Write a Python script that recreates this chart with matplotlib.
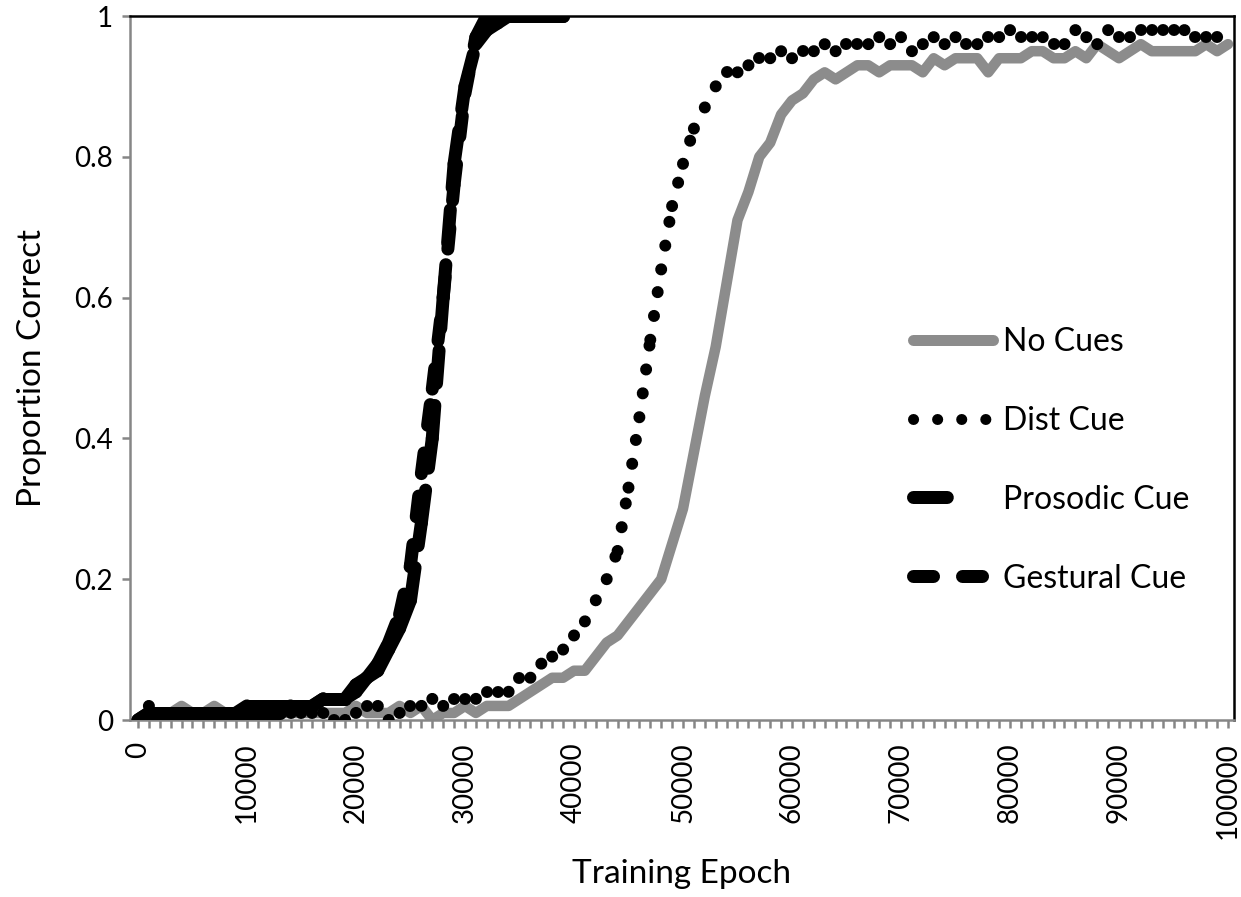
import numpy as np
import matplotlib
matplotlib.use("Agg")
import matplotlib.pyplot as plt
from matplotlib.collections import LineCollection
from matplotlib.lines import Line2D

plt.rcParams['font.family'] = ['Lato', 'DejaVu Sans']

# --- data (proportion correct, one value per 1000 training epochs) ---
epochs = list(range(0, 100001, 1000))

no_cues = [
    0.00, 0.01, 0.01, 0.01, 0.02, 0.01, 0.01, 0.02, 0.01, 0.01,
    0.01, 0.01, 0.01, 0.01, 0.01, 0.01, 0.01, 0.01, 0.01, 0.01,
    0.02, 0.01, 0.01, 0.01, 0.02, 0.01, 0.02, 0.00, 0.01, 0.01,
    0.02, 0.01, 0.02, 0.02, 0.02, 0.03, 0.04, 0.05, 0.06, 0.06,
    0.07, 0.07, 0.09, 0.11, 0.12, 0.14, 0.16, 0.18, 0.20, 0.25,
    0.30, 0.38, 0.46, 0.53, 0.62, 0.71, 0.75, 0.80, 0.82, 0.86,
    0.88, 0.89, 0.91, 0.92, 0.91, 0.92, 0.93, 0.93, 0.92, 0.93,
    0.93, 0.93, 0.92, 0.94, 0.93, 0.94, 0.94, 0.94, 0.92, 0.94,
    0.94, 0.94, 0.95, 0.95, 0.94, 0.94, 0.95, 0.94, 0.96, 0.95,
    0.94, 0.95, 0.96, 0.95, 0.95, 0.95, 0.95, 0.95, 0.96, 0.95,
    0.96,
]

dist_cue = [
    0.00, 0.02, 0.01, 0.01, 0.01, 0.01, 0.01, 0.01, 0.01, 0.01,
    0.01, 0.01, 0.01, 0.01, 0.01, 0.01, 0.01, 0.01, 0.00, 0.00,
    0.01, 0.02, 0.02, 0.00, 0.01, 0.02, 0.02, 0.03, 0.02, 0.03,
    0.03, 0.03, 0.04, 0.04, 0.04, 0.06, 0.06, 0.08, 0.09, 0.10,
    0.12, 0.14, 0.17, 0.20, 0.24, 0.33, 0.43, 0.54, 0.64, 0.73,
    0.79, 0.84, 0.87, 0.90, 0.92, 0.92, 0.93, 0.94, 0.94, 0.95,
    0.94, 0.95, 0.95, 0.96, 0.95, 0.96, 0.96, 0.96, 0.97, 0.96,
    0.97, 0.95, 0.96, 0.97, 0.96, 0.97, 0.96, 0.96, 0.97, 0.97,
    0.98, 0.97, 0.97, 0.97, 0.96, 0.96, 0.98, 0.97, 0.96, 0.98,
    0.97, 0.97, 0.98, 0.98, 0.98, 0.98, 0.98, 0.97, 0.97, 0.97,
    0.97,
]

prosodic_cue = [
    0.00, 0.01, 0.01, 0.01, 0.01, 0.01, 0.01, 0.01, 0.01, 0.01,
    0.01, 0.01, 0.01, 0.01, 0.02, 0.02, 0.02, 0.03, 0.03, 0.03,
    0.04, 0.06, 0.07, 0.10, 0.13, 0.17, 0.28, 0.40, 0.60, 0.79,
    0.90, 0.96, 0.98, 0.99, 1.00, 1.00, 1.00, 1.00, 1.00, 1.00,
]

gestural_cue = [
    0.00, 0.01, 0.01, 0.01, 0.01, 0.01, 0.01, 0.01, 0.01, 0.01,
    0.02, 0.02, 0.02, 0.02, 0.02, 0.02, 0.02, 0.03, 0.03, 0.03,
    0.05, 0.06, 0.08, 0.11, 0.15, 0.22, 0.35, 0.47, 0.60, 0.76,
    0.89, 0.97, 1.00, 1.00, 1.00, 1.00, 1.00, 1.00, 1.00, 1.00,
]

GRAY = '#8c8c8c'
AXIS_GRAY = '#868686'
DPI = 100


def px(n):
    """pixels -> points at the figure dpi"""
    return n * 72 / DPI


def segments(xs, ys):
    pts = np.column_stack([xs, ys])
    return np.stack([pts[:-1], pts[1:]], axis=1)


fig = plt.figure(figsize=(12.41, 8.97), dpi=DPI)
ax = fig.add_axes([130 / 1241, 1 - 720 / 897, 1104 / 1241, 704 / 897])

ax.plot(epochs, no_cues, color=GRAY, lw=px(10.5),
        solid_capstyle='round', solid_joinstyle='round', zorder=2)

# Excel restarts the dash pattern at every point, so draw segment by segment
ax.add_collection(LineCollection(
    segments(epochs[:len(dist_cue)], dist_cue), colors='black',
    linewidths=px(12), linestyles=[(0, (0.01, 2.0))], capstyle='round', zorder=3))
ax.add_collection(LineCollection(
    segments(epochs[:len(prosodic_cue)], prosodic_cue), colors='black',
    linewidths=px(13), linestyles=[(0, (2.54, 1.7))], capstyle='round', zorder=4))
ax.add_collection(LineCollection(
    segments(epochs[:len(gestural_cue)], gestural_cue), colors='black',
    linewidths=px(13), linestyles=[(0, (1.6, 2.15))], capstyle='round', zorder=5))

ax.set_xlim(-730, 100550)
ax.set_ylim(0, 1)

ax.set_xticks(epochs)
ax.set_xticklabels([str(e) if e % 10000 == 0 else '' for e in epochs],
                   rotation=90, fontsize=20)
ax.set_yticks([0, 0.2, 0.4, 0.6, 0.8, 1])
ax.set_yticklabels(['0', '0.2', '0.4', '0.6', '0.8', '1'], fontsize=20)
ax.tick_params(axis='x', direction='out', length=px(8), width=px(2.5),
               color=AXIS_GRAY, pad=px(14))
ax.tick_params(axis='y', direction='out', length=px(8), width=px(2.5),
               color=AXIS_GRAY, pad=px(9))

for side in ['left', 'bottom']:
    ax.spines[side].set_color(AXIS_GRAY)
    ax.spines[side].set_linewidth(px(2.5))
for side in ['top', 'right']:
    ax.spines[side].set_color('black')
    ax.spines[side].set_linewidth(px(2.5))

ax.set_ylabel('Proportion Correct', fontsize=24)
ax.yaxis.set_label_coords(-0.075, 0.5)
ax.set_xlabel('Training Epoch', fontsize=24)
ax.xaxis.set_label_coords(0.5, -0.197)

handles = [
    Line2D([], [], color=GRAY, lw=px(11), solid_capstyle='round'),
    Line2D([], [], color='black', lw=px(11), linestyle=(0, (0.01, 2.18)),
           dash_capstyle='round'),
    Line2D([], [], color='black', lw=px(13), linestyle=(0, (2.6, 4.0)),
           dash_capstyle='round'),
    Line2D([], [], color='black', lw=px(13), linestyle=(0, (1.54, 2.23)),
           dash_capstyle='round'),
]
labels = ['No Cues', 'Dist Cue', 'Prosodic Cue', 'Gestural Cue']
ax.legend(handles, labels, loc='center left', bbox_to_anchor=(0.709, 0.369),
          frameon=False, fontsize=23, handlelength=2.5, handletextpad=0.33,
          labelspacing=1.53, borderpad=0, borderaxespad=0)

fig.savefig('out.png', dpi=DPI)
